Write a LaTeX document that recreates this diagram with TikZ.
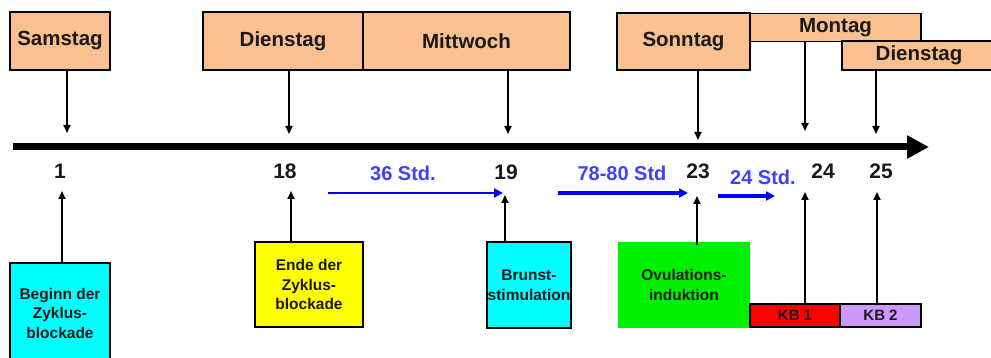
\documentclass[tikz,border=0pt]{standalone}
\usepackage{fontspec}
\setmainfont{Liberation Sans}
\usetikzlibrary{arrows.meta}
\definecolor{peach}{RGB}{250,192,144}
\definecolor{cyanbox}{RGB}{0,255,255}
\definecolor{yellowbox}{RGB}{255,255,0}
\definecolor{greenbox}{RGB}{0,240,0}
\definecolor{redbox}{RGB}{255,0,0}
\definecolor{purplebox}{RGB}{204,153,255}
\definecolor{bluetxt}{RGB}{64,64,255}
\definecolor{bluearr}{RGB}{0,0,255}
\definecolor{txt}{RGB}{26,26,26}
\tikzset{
  daybox/.style={draw=black, line width=1.6pt, fill=peach, inner sep=0pt, font=\fontsize{20.5}{22}\selectfont\bfseries, text=txt},
  evbox/.style={draw=black, line width=1.6pt, inner sep=0pt, align=center, font=\fontsize{15.5}{19.5}\selectfont\bfseries, text=txt},
  kbbox/.style={draw=black, line width=1.6pt, inner sep=0pt, font=\fontsize{15}{16}\selectfont\bfseries, text=txt},
  numlbl/.style={font=\fontsize{21}{23}\selectfont\bfseries, text=txt, inner sep=0pt},
  hrlbl/.style={font=\fontsize{20}{22}\selectfont\bfseries, text=bluetxt, inner sep=0pt},
  tickarrow/.style={draw=black, line width=1.8pt, -{Triangle[length=8pt,width=7pt]}},
  hrarrow/.style={draw=bluearr, -{Triangle[length=9pt,width=9pt]}},
}
\begin{document}
\begin{tikzpicture}[x=1pt,y=-1pt]
\useasboundingbox (0,0) rectangle (991,358);
\fill[white] (0,0) rectangle (991,358);

% top day boxes
\node[daybox, minimum width=100pt, minimum height=58pt] (sam) at (60,41) {Samstag};
\node[daybox, minimum width=160pt, minimum height=58pt] (die1) at (283,41) {Dienstag};
\node[daybox, minimum width=207pt, minimum height=58pt] (mit) at (466.5,41) {Mittwoch};
\node[daybox, minimum width=133pt, minimum height=57pt] (son) at (683.5,41.5) {Sonntag};
\node[daybox, minimum width=171pt, minimum height=28pt] (mon) at (835.5,27.5) {Montag};
\node[daybox, minimum width=156pt, minimum height=29pt] (die2) at (920,55.5) {\hspace*{-2pt}Dienstag};

% axis
\coordinate (axs) at (13,147);
\coordinate (axe) at (929,147);
\draw[line width=7pt, -{Triangle[length=22pt,width=22pt]}] (axs) -- (axe);

% tick points above axis
\coordinate (t1) at (67,133);
\coordinate (t18) at (289,134);
\coordinate (t19) at (508,134);
\coordinate (t23) at (698,140);
\coordinate (t24) at (805,131);
\coordinate (t25) at (876,134);
\draw[tickarrow] (sam.south -| t1) -- (t1);
\draw[tickarrow] (die1.south -| t18) -- (t18);
\draw[tickarrow] (mit.south -| t19) -- (t19);
\draw[tickarrow] (son.south -| t23) -- (t23);
\draw[tickarrow] (mon.south -| t24) -- (t24);
\draw[tickarrow] (die2.south -| t25) -- (t25);

% numbers
\node[numlbl] (n1) at (60,171) {1};
\node[numlbl] (n18) at (285,171) {18};
\node[numlbl] (n19) at (506,172) {19};
\node[numlbl] (n23) at (698,171) {23};
\node[numlbl] (n24) at (823,171) {24};
\node[numlbl] (n25) at (881,171) {25};

% hour labels and arrows
\node[hrlbl] (h36) at (403,173) {36 Std.};
\node[hrlbl] (h78) at (622,173) {78-80 Std};
\node[hrlbl] (h24) at (763,177) {24 Std.};
\coordinate (a36s) at (328,193);
\coordinate (a36e) at (503,193);
\coordinate (a78s) at (558,193);
\coordinate (a78e) at (688,193);
\coordinate (a24s) at (718,196);
\coordinate (a24e) at (775,196);
\draw[hrarrow, line width=2.4pt] (a36s) -- (a36e);
\draw[hrarrow, line width=4pt] (a78s) -- (a78e);
\draw[hrarrow, line width=4pt] (a24s) -- (a24e);

% bottom event boxes
\node[evbox, fill=cyanbox, minimum width=100pt, minimum height=100pt] (beg) at (60,313) {Beginn der\\Zyklus-\\blockade};
\node[evbox, fill=yellowbox, minimum width=108pt, minimum height=85pt] (ende) at (309,284.5) {Ende der\\Zyklus-\\blockade};
\node[evbox, fill=cyanbox, minimum width=84pt, minimum height=86pt] (brunst) at (529,285) {Brunst-\\\hspace*{-4pt}stimulation\hspace*{-4pt}};
\node[evbox, draw=none, fill=greenbox, minimum width=132pt, minimum height=86pt] (ovu) at (684,285) {Ovulations-\\induktion};
\node[kbbox, fill=redbox, minimum width=90pt, minimum height=23pt] (kb1) at (795,315.5) {KB 1};
\node[kbbox, fill=purplebox, minimum width=81pt, minimum height=23pt] (kb2) at (880.5,315.5) {KB 2};

% up arrows
\coordinate (b1) at (62,191);
\coordinate (b18) at (291,191);
\coordinate (b19) at (505,195);
\coordinate (b23) at (697,196);
\coordinate (b24) at (805,192);
\coordinate (b25) at (877,192);
\draw[tickarrow] (beg.north -| b1) -- (b1);
\draw[tickarrow] (ende.north -| b18) -- (b18);
\draw[tickarrow] (brunst.north -| b19) -- (b19);
\draw[tickarrow] ([yshift=-4pt]ovu.north -| b23) -- (b23);
\draw[tickarrow] (kb1.north -| b24) -- (b24);
\draw[tickarrow] (kb2.north -| b25) -- (b25);
\end{tikzpicture}
\end{document}
